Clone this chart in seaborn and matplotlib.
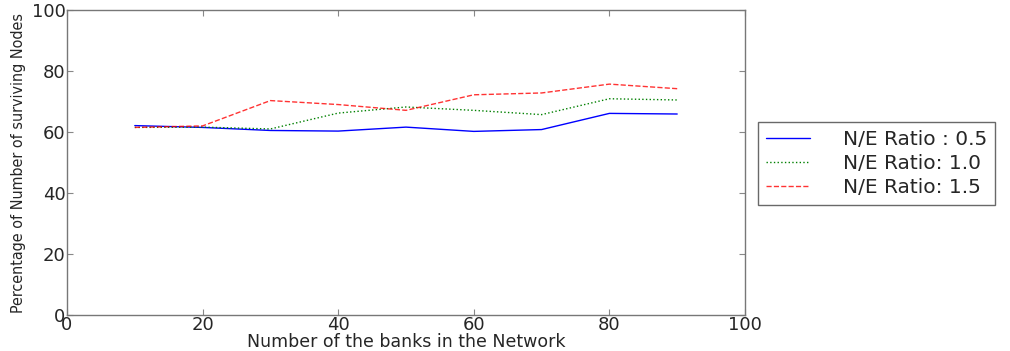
import numpy as np
import pandas as pd
import matplotlib
matplotlib.use('Agg')
import matplotlib.pyplot as plt
from matplotlib import font_manager
import seaborn as sns

# values
banks = [10, 20, 30, 40, 50, 60, 70, 80, 90]
ratio_05 = [62.1, 61.5, 60.5, 60.3, 61.6, 60.2, 60.8, 66.1, 65.9]
ratio_10 = [61.5, 61.6, 61.0, 66.2, 68.2, 67.1, 65.7, 70.9, 70.5]
ratio_15 = [61.5, 62.0, 70.3, 69.0, 67.1, 72.2, 72.8, 75.7, 74.2]

series_labels = ['N/E Ratio : 0.5', 'N/E Ratio: 1.0', 'N/E Ratio: 1.5']
series_colors = ['#0000ff', '#008000', '#ff0000']
series_styles = ['-', ':', '--']

sns.set_style('ticks')
plt.rcParams['font.family'] = ['DejaVu Sans']

# the y label in the original is narrow; use a condensed face if there is one
cond = font_manager.FontProperties(family='DejaVu Sans', stretch='condensed')
cond_path = font_manager.findfont(cond, fallback_to_default=True)
if 'Condensed' in cond_path:
    ylab_font = font_manager.FontProperties(fname=cond_path, size=11.5)
else:
    ylab_font = font_manager.FontProperties(family='DejaVu Sans', size=9.5)

fig = plt.figure(figsize=(10.1, 3.51), dpi=100)
ax = fig.add_axes([67 / 1010, 1 - 315 / 351, (745 - 67) / 1010, (315 - 10) / 351])

for vals, lab, col, ls in zip([ratio_05, ratio_10, ratio_15], series_labels, series_colors, series_styles):
    df = pd.DataFrame({'banks': banks, 'pct': vals})
    sns.lineplot(data=df, x='banks', y='pct', ax=ax, color=col, linestyle=ls,
                 linewidth=1.0, label=lab, alpha=0.8 if ls == '--' else 1.0)

ax.set_xlim(0, 100)
ax.set_ylim(0, 100)
ax.set_xticks(np.arange(0, 101, 20))
ax.set_yticks(np.arange(0, 101, 20))
ax.tick_params(direction='in', top=True, right=True, labelsize=13, length=4,
               color='#888888', pad=1)
for s in ax.spines.values():
    s.set_color('#777777')
    s.set_linewidth(1.0)

ax.set_xlabel('Number of the banks in the Network', fontsize=12.5, labelpad=-1)
ax.set_ylabel('Percentage of Number of surviving Nodes', fontproperties=ylab_font, labelpad=4)

leg = ax.legend(loc='upper left', bbox_to_anchor=(758 / 1010, 1 - 122 / 351),
                bbox_transform=fig.transFigure, fontsize=14.5, frameon=True,
                fancybox=False, handlelength=2.2, handletextpad=1.6,
                borderpad=0.4, labelspacing=0.25, borderaxespad=0)
leg.get_frame().set_edgecolor('#444444')
leg.get_frame().set_linewidth(1.0)

fig.savefig('out.png', dpi=100)
